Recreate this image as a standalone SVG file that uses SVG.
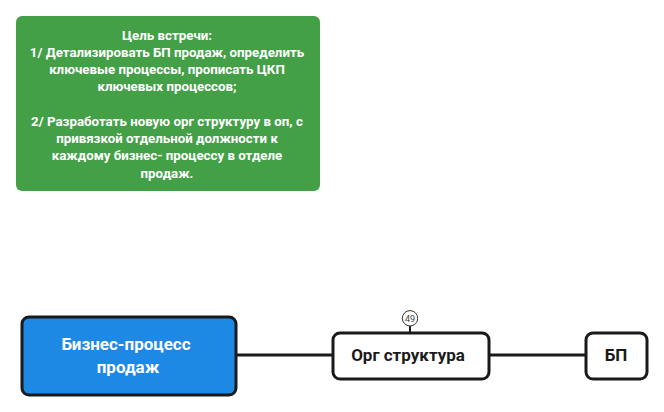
<svg xmlns="http://www.w3.org/2000/svg" width="664" height="412" viewBox="0 0 664 412">
<style>
text{font-family:Roboto,"Liberation Sans",sans-serif;text-anchor:middle}
.g{font-size:13.300px;font-weight:700;fill:#fff}
.b{font-size:17px;font-weight:700}
.box{stroke:#1a1a1a;stroke-width:3;fill:#fff}
.c{stroke:#1a1a1a;fill:none}
</style>
<rect width="664" height="412" fill="#fff"/>
<g id="connectors">
<path class="c" stroke-width="3" d="M236 355H333M489 355H586"/>
<path class="c" stroke-width="2" d="M410 326V333"/>
</g>
<g id="goal">
<rect x="16" y="16" width="304" height="175" rx="6" fill="#43a047"/>
<text class="g" x="167" y="39.500">Цель встречи:</text>
<text class="g" x="167" y="57">1/ Детализировать БП продаж, определить</text>
<text class="g" x="167" y="74">ключевые процессы, прописать ЦКП</text>
<text class="g" x="167" y="91">ключевых процессов;</text>
<text class="g" x="167" y="125.500">2/ Разработать новую орг структуру в оп, с</text>
<text class="g" x="167" y="143">привязкой отдельной должности к</text>
<text class="g" x="167" y="160">каждому бизнес- процессу в отделе</text>
<text class="g" x="167" y="177.500">продаж.</text>
</g>
<g id="process">
<rect x="22" y="317" width="214" height="78" rx="7" fill="#1e88e5" stroke="#1a1a1a" stroke-width="3"/>
<text class="b" x="126" y="350" fill="#fff">Бизнес-процесс</text>
<text class="b" x="128" y="373" fill="#fff">продаж</text>
</g>
<g id="org">
<rect class="box" x="333" y="333" width="156" height="46" rx="7"/>
<text class="b" x="408" y="361" fill="#1a1a1a">Орг структура</text>
</g>
<g id="badge">
<circle cx="410" cy="318.300" r="7.700" fill="#fff" stroke="#333" stroke-width="1"/>
<text x="410" y="321.600" font-size="9" fill="#444">49</text>
</g>
<g id="bp">
<rect class="box" x="586" y="333" width="61" height="46" rx="7"/>
<text class="b" x="616" y="361" fill="#1a1a1a">БП</text>
</g>
</svg>
